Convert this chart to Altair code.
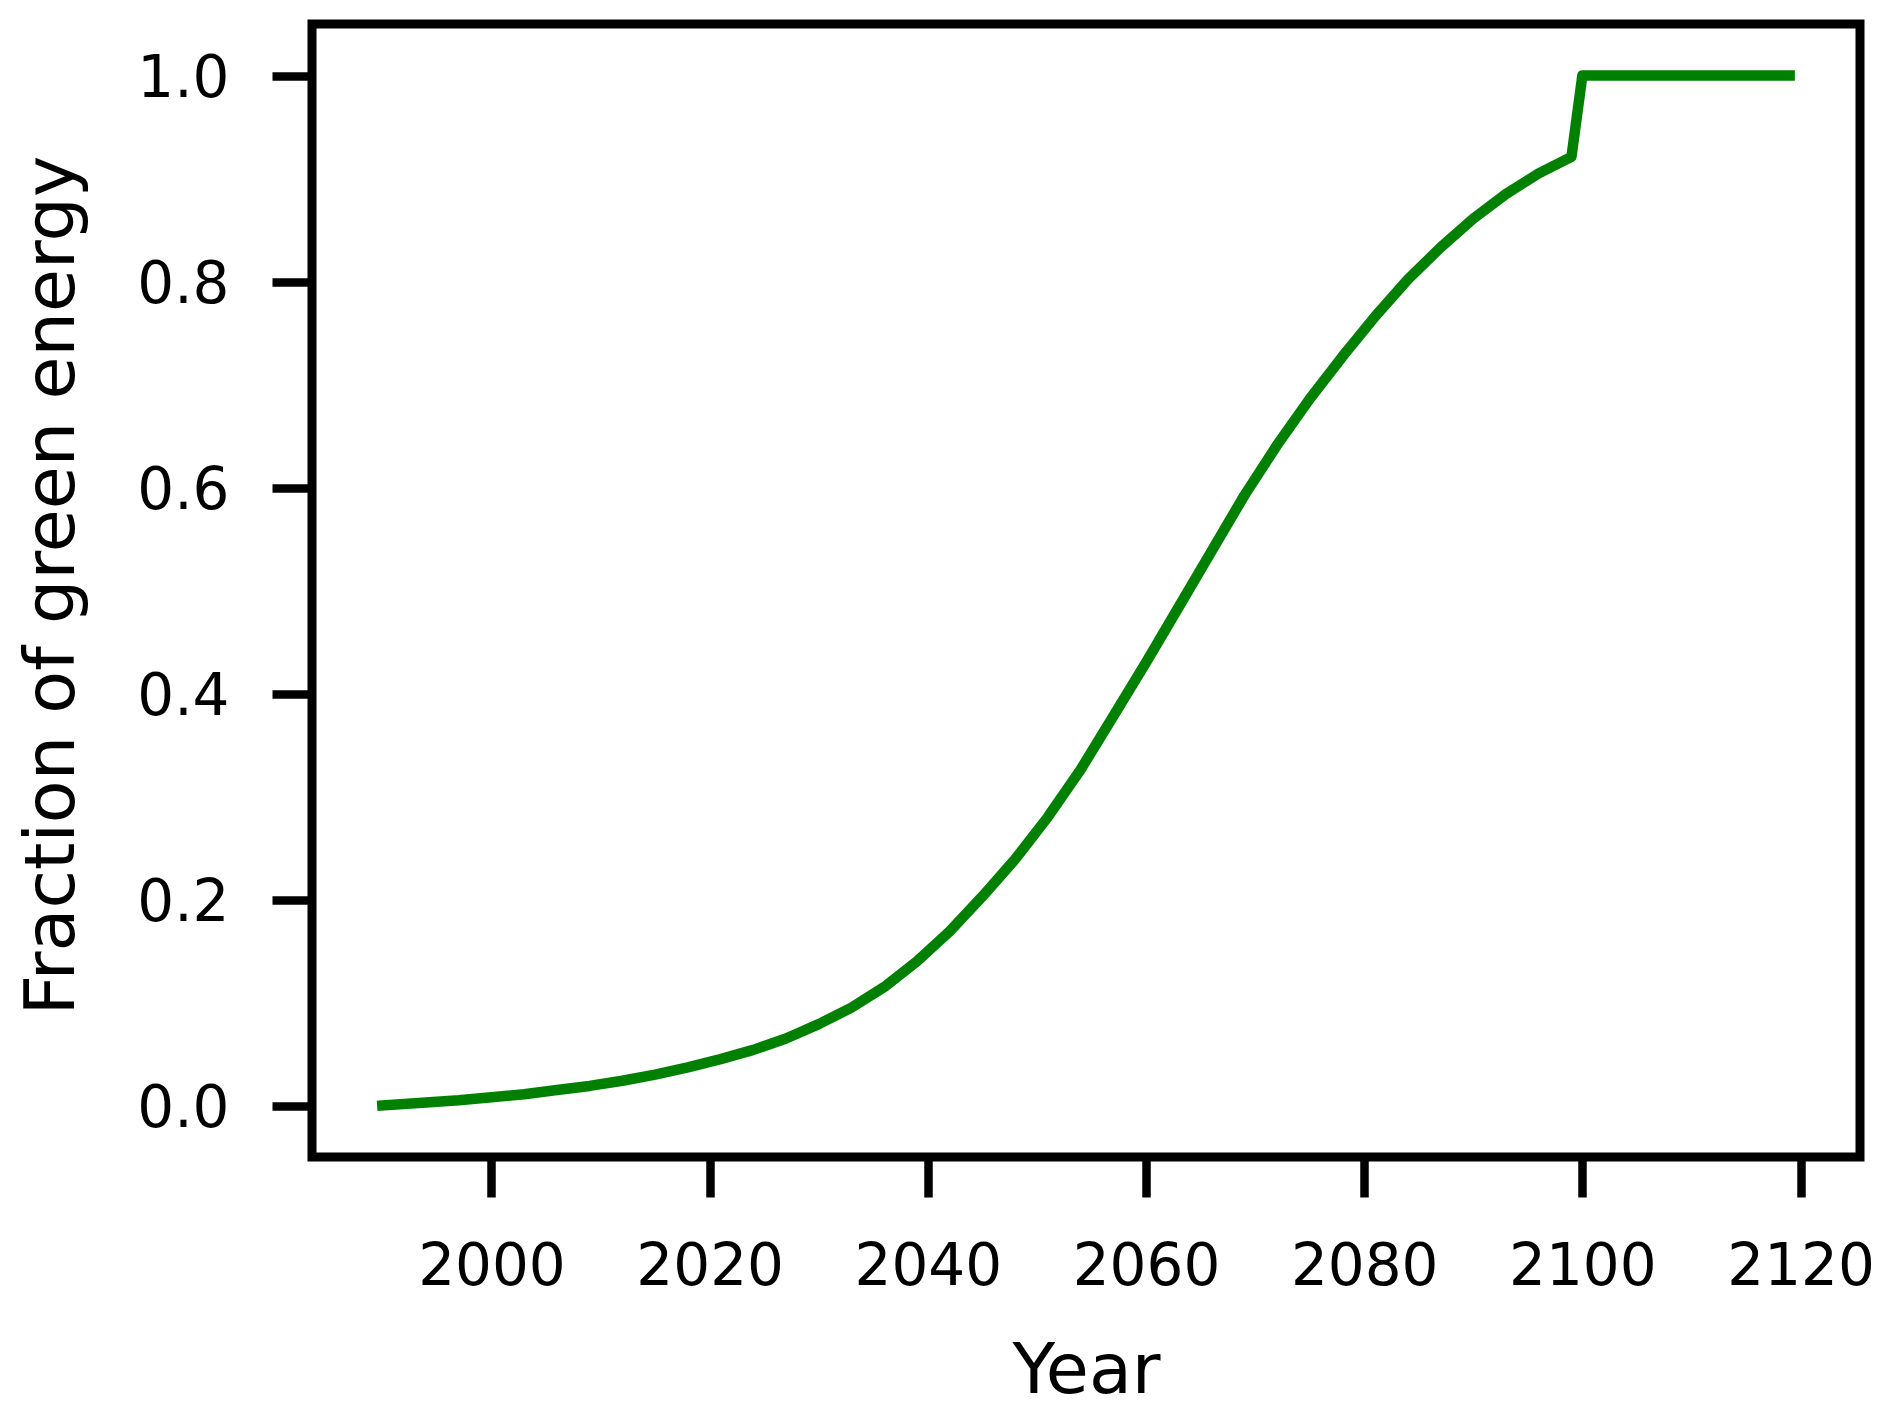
import altair as alt
import pandas as pd

years = [1990, 1994, 1997, 2000, 2003, 2006, 2009, 2012, 2015, 2018,
         2021, 2024, 2027, 2030, 2033, 2036, 2039, 2042, 2045, 2048,
         2051, 2054, 2057, 2060, 2063, 2066, 2069, 2072, 2075, 2078,
         2081, 2084, 2087, 2090, 2093, 2096, 2099, 2100, 2119]
fraction = [0.000, 0.003, 0.005, 0.008, 0.011, 0.015, 0.019, 0.024, 0.030, 0.037,
            0.045, 0.054, 0.065, 0.079, 0.095, 0.115, 0.140, 0.169, 0.203, 0.239,
            0.280, 0.326, 0.378, 0.430, 0.484, 0.538, 0.592, 0.641, 0.686, 0.727,
            0.766, 0.802, 0.833, 0.861, 0.885, 0.905, 0.921, 1.000, 1.000]

x_ticks = [2000, 2020, 2040, 2060, 2080, 2100, 2120]
y_ticks = [0.0, 0.2, 0.4, 0.6, 0.8, 1.0]

df = pd.DataFrame({"Year": years, "Fraction": fraction})

FONT = "DejaVu Sans"
W, H = 1548, 1133

chart = alt.Chart(df).mark_line(
    color="#008000", strokeWidth=10.5, strokeCap="square", strokeJoin="round"
).encode(
    x=alt.X("Year:Q",
            scale=alt.Scale(domain=[1983.55, 2125.45], nice=False, zero=False),
            axis=alt.Axis(values=x_ticks, format="d", title="Year",
                          grid=False, domain=False,
                          tickSize=40, tickWidth=8.5, tickColor="black",
                          labelFont=FONT, labelFontSize=58, labelColor="black",
                          labelPadding=41, labelFlush=False, labelOverlap=False,
                          titleFont=FONT, titleFontSize=70, titleFontWeight="normal",
                          titleColor="black", titleBaseline="alphabetic",
                          titleY=235, titleX=W / 2, titleAlign="center")),
    y=alt.Y("Fraction:Q",
            scale=alt.Scale(domain=[-0.05, 1.05], nice=False, zero=False),
            axis=alt.Axis(values=y_ticks, format=".1f", title="Fraction of green energy",
                          grid=False, domain=False,
                          tickSize=40, tickWidth=8.5, tickColor="black",
                          labelFont=FONT, labelFontSize=58, labelColor="black",
                          labelPadding=43, labelOffset=4, labelOverlap=False,
                          titleFont=FONT, titleFontSize=70, titleFontWeight="normal",
                          titleColor="black", titleAngle=270, titleBaseline="alphabetic",
                          titleAlign="center", titleX=-239, titleY=561)),
).properties(
    width=W, height=H,
    autosize=alt.AutoSizeParams(type="none"),
    padding={"left": 304, "top": 16, "right": 20, "bottom": 252},
    background="white",
).configure_view(stroke="black", strokeWidth=9)

chart.save("out.html", embed_options={"renderer": "svg", "actions": False})
